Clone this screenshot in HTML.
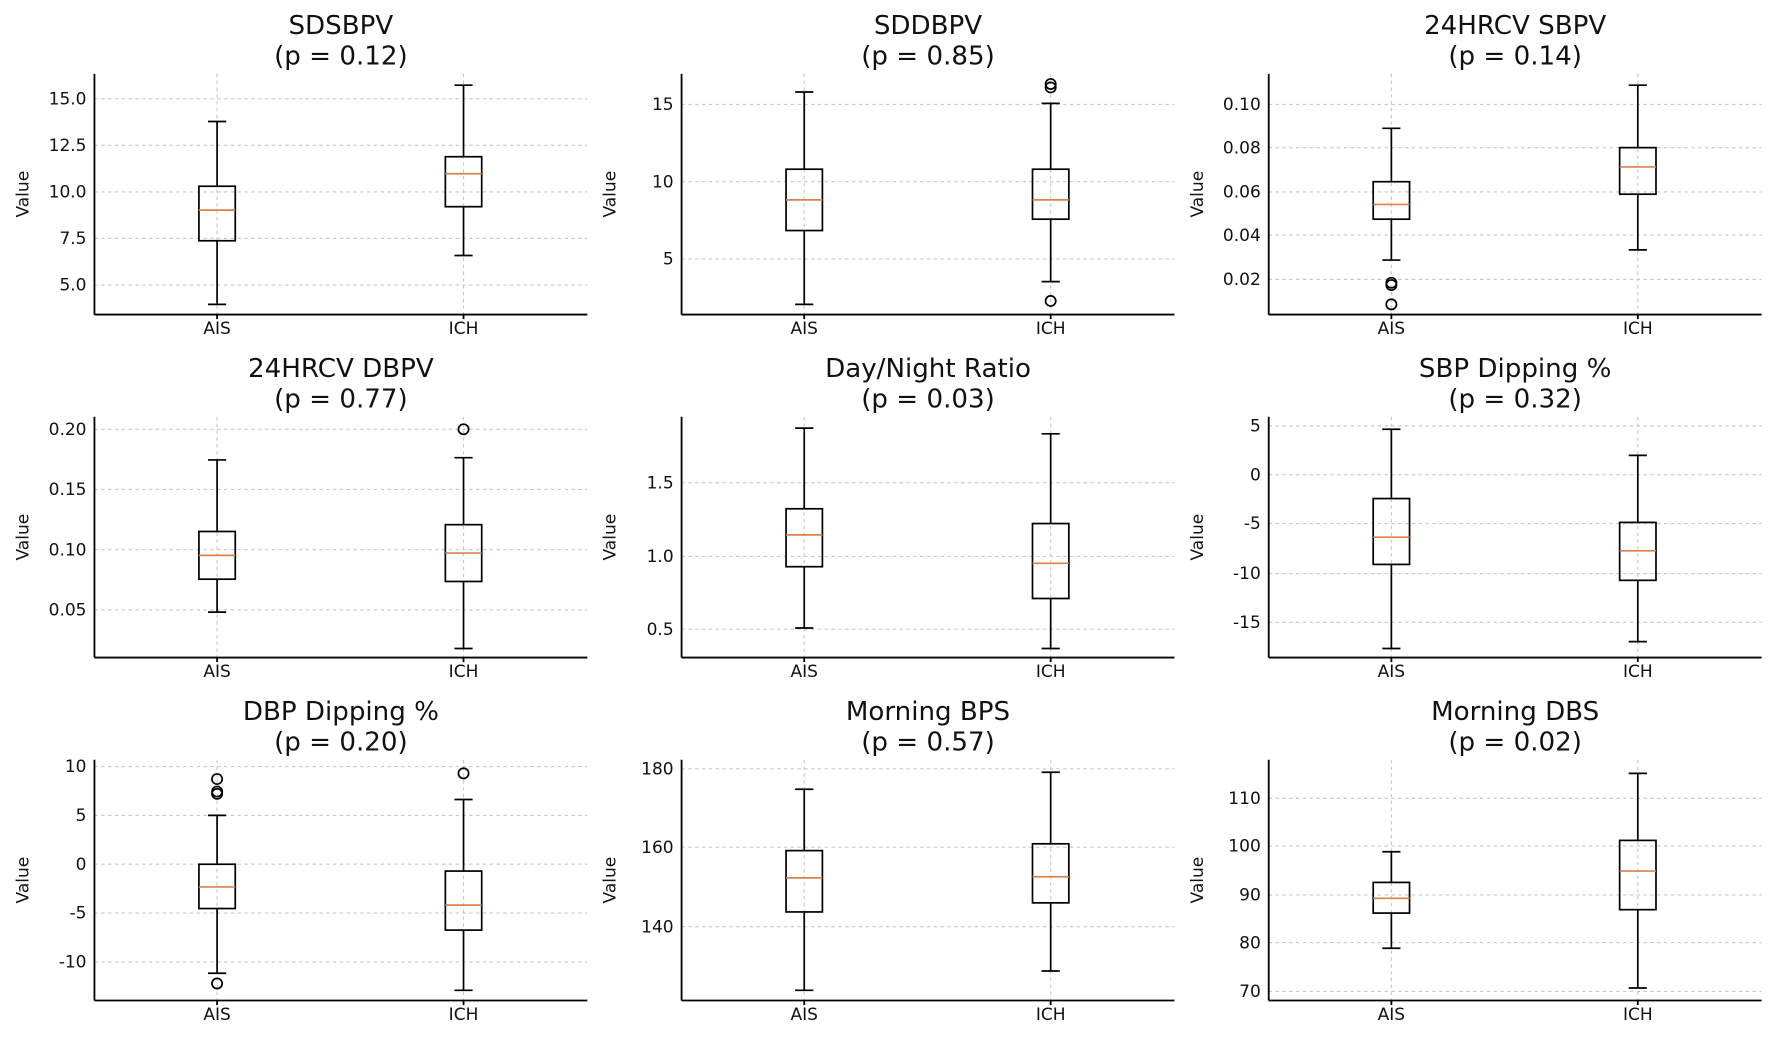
<!DOCTYPE html>
<html><head><meta charset="utf-8"><style>
html,body{margin:0;padding:0;background:#fff;}
svg{display:block;font-family:"DejaVu Sans","Liberation Sans",sans-serif;}
.g{stroke:#c8c8c8;stroke-width:1;stroke-dasharray:3,3;}
.ax{stroke:#000;stroke-width:1.6;fill:none;}
.b{stroke:#000;stroke-width:1.5;fill:none;}
.m{stroke:#d9824a;stroke-width:1.5;}
.t{font-size:23px;text-anchor:middle;fill:#111;}
.yl{font-size:15px;text-anchor:end;fill:#111;}
.xl{font-size:15px;text-anchor:middle;fill:#111;}
.vl{font-size:15px;text-anchor:middle;fill:#111;}
</style></head><body>
<svg width="1772" height="1038" viewBox="0 0 1560 914" xmlns="http://www.w3.org/2000/svg">
<defs>
<g id="frame">
<line class="g" x1="108" y1="65" x2="108" y2="277"/><line class="g" x1="325" y1="65" x2="325" y2="277"/>
<line class="ax" x1="0" y1="65" x2="0" y2="277"/><line class="ax" x1="0" y1="277" x2="434" y2="277"/>
<line class="ax" x1="108" y1="277" x2="108" y2="281"/><line class="ax" x1="325" y1="277" x2="325" y2="281"/>
<text class="xl" x="108" y="294">AIS</text><text class="xl" x="325" y="294">ICH</text>
<text class="vl" transform="translate(-58,171) rotate(-90)">Value</text>
</g>
</defs>

<!-- Panel 1 -->
<g transform="translate(83,0)">
<text class="t" x="217" y="30">SDSBPV</text><text class="t" x="217" y="57">(p = 0.12)</text>
<line class="g" x1="0" y1="87" x2="434" y2="87"/><line class="g" x1="0" y1="128" x2="434" y2="128"/><line class="g" x1="0" y1="169" x2="434" y2="169"/><line class="g" x1="0" y1="210" x2="434" y2="210"/><line class="g" x1="0" y1="251" x2="434" y2="251"/>
<text class="yl" x="-7" y="92">15.0</text><text class="yl" x="-7" y="133">12.5</text><text class="yl" x="-7" y="174">10.0</text><text class="yl" x="-7" y="215">7.5</text><text class="yl" x="-7" y="256">5.0</text>
<use href="#frame"/>
<path class="b" d="M108,107V164M108,212V268M100,107H116M100,268H116"/><rect class="b" x="92" y="164" width="32" height="48"/><line class="m" x1="92" y1="185" x2="124" y2="185"/>
<path class="b" d="M325,75V138M325,182V225M317,75H333M317,225H333"/><rect class="b" x="309" y="138" width="32" height="44"/><line class="m" x1="309" y1="153" x2="341" y2="153"/>
</g>

<!-- Panel 2 -->
<g transform="translate(600,0)">
<text class="t" x="217" y="30">SDDBPV</text><text class="t" x="217" y="57">(p = 0.85)</text>
<line class="g" x1="0" y1="92" x2="434" y2="92"/><line class="g" x1="0" y1="160" x2="434" y2="160"/><line class="g" x1="0" y1="228" x2="434" y2="228"/>
<text class="yl" x="-7" y="97">15</text><text class="yl" x="-7" y="165">10</text><text class="yl" x="-7" y="233">5</text>
<use href="#frame"/>
<path class="b" d="M108,81V149M108,203V268M100,81H116M100,268H116"/><rect class="b" x="92" y="149" width="32" height="54"/><line class="m" x1="92" y1="176" x2="124" y2="176"/>
<path class="b" d="M325,91V149M325,193V248M317,91H333M317,248H333"/><rect class="b" x="309" y="149" width="32" height="44"/><line class="m" x1="309" y1="176" x2="341" y2="176"/>
<circle class="b" cx="325" cy="74" r="4.5"/><circle class="b" cx="325" cy="77" r="4.5"/><circle class="b" cx="325" cy="265" r="4.5"/>
</g>

<!-- Panel 3 -->
<g transform="translate(1117,0)">
<text class="t" x="217" y="30">24HRCV SBPV</text><text class="t" x="217" y="57">(p = 0.14)</text>
<line class="g" x1="0" y1="92" x2="434" y2="92"/><line class="g" x1="0" y1="130" x2="434" y2="130"/><line class="g" x1="0" y1="169" x2="434" y2="169"/><line class="g" x1="0" y1="207" x2="434" y2="207"/><line class="g" x1="0" y1="246" x2="434" y2="246"/>
<text class="yl" x="-7" y="97">0.10</text><text class="yl" x="-7" y="135">0.08</text><text class="yl" x="-7" y="174">0.06</text><text class="yl" x="-7" y="212">0.04</text><text class="yl" x="-7" y="251">0.02</text>
<use href="#frame"/>
<path class="b" d="M108,113V160M108,193V229M100,113H116M100,229H116"/><rect class="b" x="92" y="160" width="32" height="33"/><line class="m" x1="92" y1="180" x2="124" y2="180"/>
<circle class="b" cx="108" cy="249" r="4.5"/><circle class="b" cx="108" cy="251" r="4.5"/><circle class="b" cx="108" cy="268" r="4.5"/>
<path class="b" d="M325,75V130M325,171V220M317,75H333M317,220H333"/><rect class="b" x="309" y="130" width="32" height="41"/><line class="m" x1="309" y1="147" x2="341" y2="147"/>
</g>

<!-- Panel 4 -->
<g transform="translate(83,302)">
<text class="t" x="217" y="30">24HRCV DBPV</text><text class="t" x="217" y="57">(p = 0.77)</text>
<line class="g" x1="0" y1="76" x2="434" y2="76"/><line class="g" x1="0" y1="129" x2="434" y2="129"/><line class="g" x1="0" y1="182" x2="434" y2="182"/><line class="g" x1="0" y1="235" x2="434" y2="235"/>
<text class="yl" x="-7" y="81">0.20</text><text class="yl" x="-7" y="134">0.15</text><text class="yl" x="-7" y="187">0.10</text><text class="yl" x="-7" y="240">0.05</text>
<use href="#frame"/>
<path class="b" d="M108,103V166M108,208V237M100,103H116M100,237H116"/><rect class="b" x="92" y="166" width="32" height="42"/><line class="m" x1="92" y1="187" x2="124" y2="187"/>
<path class="b" d="M325,101V160M325,210V269M317,101H333M317,269H333"/><rect class="b" x="309" y="160" width="32" height="50"/><line class="m" x1="309" y1="185" x2="341" y2="185"/>
<circle class="b" cx="325" cy="76" r="4.5"/>
</g>

<!-- Panel 5 -->
<g transform="translate(600,302)">
<text class="t" x="217" y="30">Day/Night Ratio</text><text class="t" x="217" y="57">(p = 0.03)</text>
<line class="g" x1="0" y1="123" x2="434" y2="123"/><line class="g" x1="0" y1="188" x2="434" y2="188"/><line class="g" x1="0" y1="252" x2="434" y2="252"/>
<text class="yl" x="-7" y="128">1.5</text><text class="yl" x="-7" y="193">1.0</text><text class="yl" x="-7" y="257">0.5</text>
<use href="#frame"/>
<path class="b" d="M108,75V146M108,197V251M100,75H116M100,251H116"/><rect class="b" x="92" y="146" width="32" height="51"/><line class="m" x1="92" y1="169" x2="124" y2="169"/>
<path class="b" d="M325,80V159M325,225V269M317,80H333M317,269H333"/><rect class="b" x="309" y="159" width="32" height="66"/><line class="m" x1="309" y1="194" x2="341" y2="194"/>
</g>

<!-- Panel 6 -->
<g transform="translate(1117,302)">
<text class="t" x="217" y="30">SBP Dipping %</text><text class="t" x="217" y="57">(p = 0.32)</text>
<line class="g" x1="0" y1="73" x2="434" y2="73"/><line class="g" x1="0" y1="116" x2="434" y2="116"/><line class="g" x1="0" y1="159" x2="434" y2="159"/><line class="g" x1="0" y1="203" x2="434" y2="203"/><line class="g" x1="0" y1="246" x2="434" y2="246"/>
<text class="yl" x="-7" y="78">5</text><text class="yl" x="-7" y="121">0</text><text class="yl" x="-7" y="164">-5</text><text class="yl" x="-7" y="208">-10</text><text class="yl" x="-7" y="251">-15</text>
<use href="#frame"/>
<path class="b" d="M108,76V137M108,195V269M100,76H116M100,269H116"/><rect class="b" x="92" y="137" width="32" height="58"/><line class="m" x1="92" y1="171" x2="124" y2="171"/>
<path class="b" d="M325,99V158M325,209V263M317,99H333M317,263H333"/><rect class="b" x="309" y="158" width="32" height="51"/><line class="m" x1="309" y1="183" x2="341" y2="183"/>
</g>

<!-- Panel 7 -->
<g transform="translate(83,604)">
<text class="t" x="217" y="30">DBP Dipping %</text><text class="t" x="217" y="57">(p = 0.20)</text>
<line class="g" x1="0" y1="71" x2="434" y2="71"/><line class="g" x1="0" y1="114" x2="434" y2="114"/><line class="g" x1="0" y1="157" x2="434" y2="157"/><line class="g" x1="0" y1="200" x2="434" y2="200"/><line class="g" x1="0" y1="243" x2="434" y2="243"/>
<text class="yl" x="-7" y="76">10</text><text class="yl" x="-7" y="119">5</text><text class="yl" x="-7" y="162">0</text><text class="yl" x="-7" y="205">-5</text><text class="yl" x="-7" y="248">-10</text>
<use href="#frame"/>
<path class="b" d="M108,114V157M108,196V253M100,114H116M100,253H116"/><rect class="b" x="92" y="157" width="32" height="39"/><line class="m" x1="92" y1="177" x2="124" y2="177"/>
<circle class="b" cx="108" cy="82" r="4.5"/><circle class="b" cx="108" cy="93" r="4.5"/><circle class="b" cx="108" cy="95" r="4.5"/><circle class="b" cx="108" cy="262" r="4.5"/>
<path class="b" d="M325,100V163M325,215V268M317,100H333M317,268H333"/><rect class="b" x="309" y="163" width="32" height="52"/><line class="m" x1="309" y1="193" x2="341" y2="193"/>
<circle class="b" cx="325" cy="77" r="4.5"/>
</g>

<!-- Panel 8 -->
<g transform="translate(600,604)">
<text class="t" x="217" y="30">Morning BPS</text><text class="t" x="217" y="57">(p = 0.57)</text>
<line class="g" x1="0" y1="73" x2="434" y2="73"/><line class="g" x1="0" y1="142" x2="434" y2="142"/><line class="g" x1="0" y1="212" x2="434" y2="212"/>
<text class="yl" x="-7" y="78">180</text><text class="yl" x="-7" y="147">160</text><text class="yl" x="-7" y="217">140</text>
<use href="#frame"/>
<path class="b" d="M108,91V145M108,199V268M100,91H116M100,268H116"/><rect class="b" x="92" y="145" width="32" height="54"/><line class="m" x1="92" y1="169" x2="124" y2="169"/>
<path class="b" d="M325,76V139M325,191V251M317,76H333M317,251H333"/><rect class="b" x="309" y="139" width="32" height="52"/><line class="m" x1="309" y1="168" x2="341" y2="168"/>
</g>

<!-- Panel 9 -->
<g transform="translate(1117,604)">
<text class="t" x="217" y="30">Morning DBS</text><text class="t" x="217" y="57">(p = 0.02)</text>
<line class="g" x1="0" y1="99" x2="434" y2="99"/><line class="g" x1="0" y1="141" x2="434" y2="141"/><line class="g" x1="0" y1="184" x2="434" y2="184"/><line class="g" x1="0" y1="226" x2="434" y2="226"/><line class="g" x1="0" y1="269" x2="434" y2="269"/>
<text class="yl" x="-7" y="104">110</text><text class="yl" x="-7" y="146">100</text><text class="yl" x="-7" y="189">90</text><text class="yl" x="-7" y="231">80</text><text class="yl" x="-7" y="274">70</text>
<use href="#frame"/>
<path class="b" d="M108,146V173M108,200V231M100,146H116M100,231H116"/><rect class="b" x="92" y="173" width="32" height="27"/><line class="m" x1="92" y1="187" x2="124" y2="187"/>
<path class="b" d="M325,77V136M325,197V266M317,77H333M317,266H333"/><rect class="b" x="309" y="136" width="32" height="61"/><line class="m" x1="309" y1="163" x2="341" y2="163"/>
</g>
</svg>
</body></html>
